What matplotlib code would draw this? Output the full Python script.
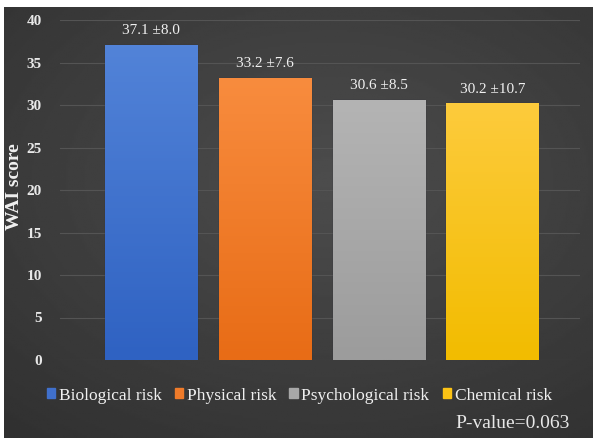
import numpy as np
import matplotlib.pyplot as plt
from matplotlib.colors import LinearSegmentedColormap

categories = ['Biological risk', 'Physical risk', 'Psychological risk', 'Chemical risk']
means = [37.1, 33.2, 30.6, 30.2]
sds = [8.0, 7.6, 8.5, 10.7]
colors = ['#4070cc', '#ef7b2a', '#a8a8a8', '#fcc315']
tops = ['#5283d8', '#f88c3e', '#b4b4b4', '#fdcb3c']
bottoms = ['#2f62c2', '#e86c16', '#9c9c9c', '#f2bc00']
yticks = [0, 5, 10, 15, 20, 25, 30, 35, 40]
p_text = 'P-value=0.063'

plt.rcParams['font.family'] = ['Liberation Serif', 'DejaVu Serif']

fig = plt.figure(figsize=(5.93, 4.38), dpi=100, facecolor='white')

# dark gradient panel behind everything
bg = fig.add_axes([4/593, 0, 1 - 4/593, 431/438])
yy, xx = np.mgrid[0:1:200j, 0:1:300j]
r = np.sqrt((xx - 0.55)**2 + (yy - 0.4)**2 * 1.2)
shade = 0.30 - 0.13 * r
bg.imshow(shade, cmap='gray', vmin=0, vmax=1, aspect='auto', extent=[0, 1, 0, 1])
bg.set_axis_off()

ax = fig.add_axes([60/593, 78/438, 520/593, 340/438])
ax.set_facecolor('none')
x = np.arange(len(categories))
bars = ax.bar(x, means, width=0.81, color=colors, edgecolor='#2c2c3a', linewidth=0.9, zorder=3)

# vertical gradient fill inside each bar
grad = np.linspace(0, 1, 100).reshape(-1, 1)
for b, t, bt in zip(bars, tops, bottoms):
    cm = LinearSegmentedColormap.from_list('g', [bt, t])
    x0, w, h = b.get_x(), b.get_width(), b.get_height()
    im = ax.imshow(grad, cmap=cm, aspect='auto', origin='lower',
                   extent=[x0, x0 + w, 0, h], zorder=3.5)
    im.set_clip_path(b)

for b, m, s in zip(bars, means, sds):
    ax.text(b.get_x() + b.get_width()/2, m + 0.9, f'{m:.1f} \u00b1{s:.1f}',
            ha='center', va='bottom', color='#f0f0f0', fontsize=11, zorder=5)

ax.set_xlim(-0.8, 3.77)
ax.set_ylim(0, 40)
ax.set_yticks(yticks)
ax.set_yticklabels([str(t) for t in yticks], fontsize=11, fontweight='bold', color='#e8e8e8')
ax.set_xticks([])
ax.tick_params(axis='y', length=0, pad=13)
ax.grid(axis='y', color='#545454', linewidth=0.8, zorder=0)
for sp in ax.spines.values():
    sp.set_visible(False)
ax.set_ylabel('WAI score', fontsize=14, fontweight='bold', color='#f0f0f0')
ax.yaxis.set_label_coords(-0.072, 0.51)

handles = [plt.Rectangle((0, 0), 1, 1, color=c) for c in colors]
leg = ax.legend(handles, categories, loc='upper center', bbox_to_anchor=(0.46, -0.035),
                ncol=4, frameon=False, fontsize=12.5, handlelength=0.5, handleheight=0.5,
                handletextpad=0.2, columnspacing=0.75, labelcolor='#f0f0f0')

fig.text(570/593, 1 - 423/438, p_text, ha='right', va='center', fontsize=14, color='#e8e8e8')

fig.savefig('out.png', dpi=100, facecolor='white')
